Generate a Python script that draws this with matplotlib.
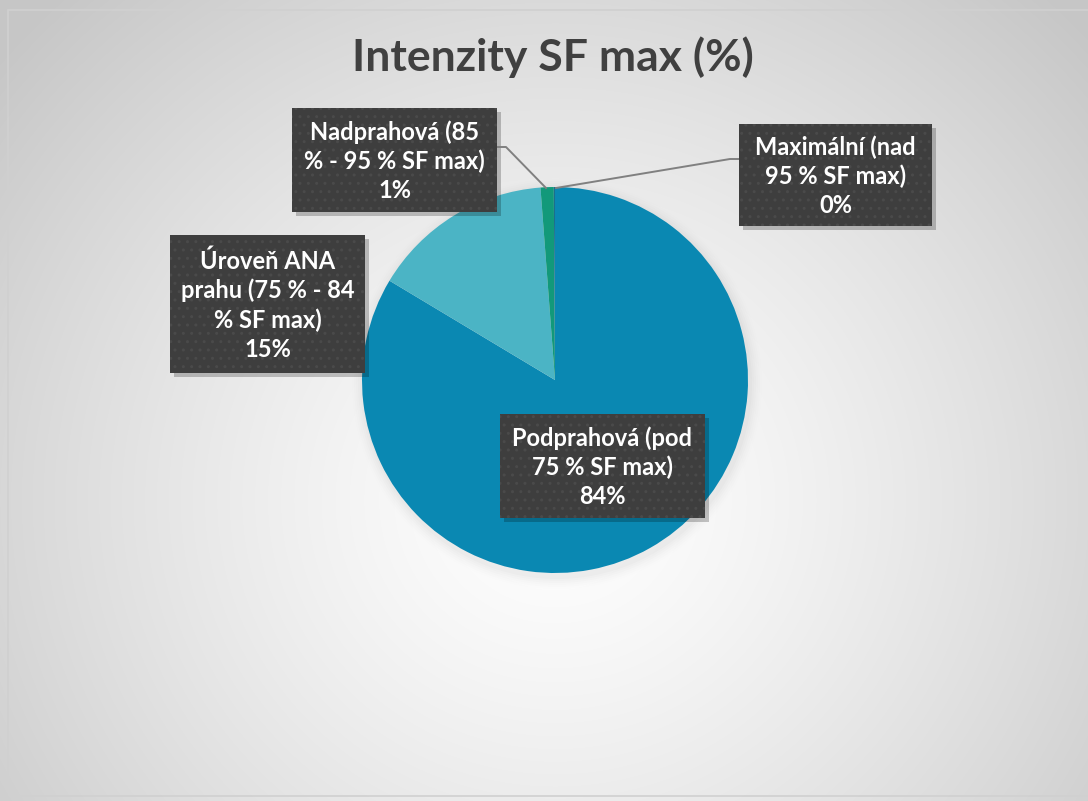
import numpy as np
import matplotlib
matplotlib.use("Agg")
import matplotlib.pyplot as plt
from matplotlib.patches import Rectangle

# data
categories = ["Podprahová (pod\n75 % SF max)",
              "Úroveň ANA\nprahu (75 % - 84\n% SF max)",
              "Nadprahová (85\n% - 95 % SF max)",
              "Maximální (nad\n95 % SF max)"]
values = [83.6, 15.2, 1.1, 0.1]
colors = ["#0a88b2", "#4bb4c5", "#12997a", "#1b6f8d"]
title = "Intenzity SF max (%)"

W, H = 1088, 801
fig = plt.figure(figsize=(W / 100, H / 100), dpi=100)
ax = fig.add_axes([0, 0, 1, 1])
ax.set_xlim(0, W)
ax.set_ylim(0, H)
ax.axis("off")

# radial background gradient
yy, xx = np.mgrid[0:H, 0:W]
d = np.sqrt((xx - 555) ** 2 + ((yy - 300) * 1.05) ** 2) / 720
d = np.clip(d, 0, 1) ** 1.3
g = 1.0 - 0.22 * d
bg = np.dstack([g, g, g])
ax.imshow(bg, extent=[0, W, 0, H], origin="lower", zorder=0, aspect="auto")
ax.add_patch(Rectangle((8, 5), W, H - 15, fill=False, ec="#d0d0d0", lw=1.2, zorder=1))

def py(y):
    return H - y

# pie
cx, cy, r = 555, py(380), 193
# soft shadow
for i, a in enumerate(np.linspace(0.015, 0.004, 6)):
    ax.add_patch(plt.Circle((cx + 2, cy - 4), r + 2 + i * 2, color="k", alpha=a, lw=0, zorder=1.5))
wedges, _ = ax.pie(values, colors=colors, startangle=90, counterclock=False,
                   center=(cx, cy), radius=r, frame=True,
                   wedgeprops=dict(linewidth=0, zorder=2))
ax.set_xlim(0, W)
ax.set_ylim(0, H)
ax.set_aspect("auto")
ax.axis("off")

ax.text(553, py(57), title, ha="center", va="center", fontsize=32,
        fontweight="bold", color="#404040", family=["Lato", "DejaVu Sans"])

# label boxes (x0, y0, x1, y1 in image pixels)
boxes = [(500, 414, 705, 518), (170, 235, 365, 373),
         (292, 108, 497, 212), (739, 124, 932, 226)]
for lab, v, (x0, y0, x1, y1) in zip(categories, values, boxes):
    ax.add_patch(Rectangle((x0 + 4, py(y1) - 4), x1 - x0, y1 - y0,
                           fc="#000000", alpha=0.22, lw=0, zorder=3))
    ax.add_patch(Rectangle((x0, py(y1)), x1 - x0, y1 - y0, fc="#3e3e3e",
                           ec="#4a4a4a", hatch="..", lw=0, zorder=4))
    ax.text((x0 + x1) / 2, py((y0 + y1) / 2 + 1), f"{lab}\n{v:.0f}%",
            ha="center", va="center", color="white", fontsize=17,
            fontweight="bold", linespacing=1.3, zorder=5,
            family=["Lato", "DejaVu Sans"])

# leader lines
ax.plot([497, 506, 546], [py(147), py(147), py(188)], color="#808080", lw=1.4, zorder=3)
ax.plot([739, 730, 556], [py(159), py(159), py(188)], color="#808080", lw=1.4, zorder=3)

fig.savefig("out.png", dpi=100)
